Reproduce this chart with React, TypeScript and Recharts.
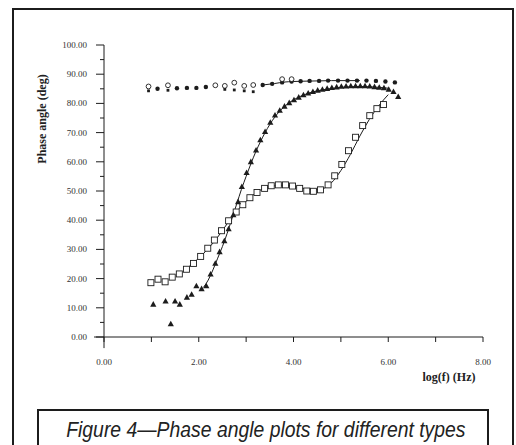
import { ComposedChart, Line, Scatter, XAxis, YAxis, ReferenceLine } from "recharts"

// log(f) positions and phase angles
const squareX = [0.99, 1.14, 1.29, 1.44, 1.59, 1.74, 1.89, 2.04, 2.19, 2.33, 2.48, 2.63, 2.79, 2.93, 3.08, 3.23, 3.39, 3.53, 3.68, 3.83, 3.98, 4.13, 4.28, 4.42, 4.57, 4.73, 4.87, 5.02, 5.16, 5.31, 5.46, 5.61, 5.76, 5.9]
const squareY = [18.6, 19.8, 18.9, 20.5, 21.6, 23.2, 25.2, 27.6, 30.4, 33.2, 36.4, 39.8, 42.8, 45.3, 47.7, 49.5, 50.9, 51.8, 52.1, 52.1, 51.7, 50.9, 50.0, 49.9, 50.4, 52.1, 55.2, 59.1, 63.8, 68.4, 72.4, 75.8, 78.2, 79.6]

const triX = [1.04, 1.3, 1.41, 1.5, 1.6, 1.75, 1.85, 1.95, 2.06, 2.16, 2.25, 2.35, 2.44, 2.54, 2.63, 2.73, 2.83, 2.91, 3.01, 3.1, 3.21, 3.3, 3.4, 3.51, 3.61, 3.71, 3.81, 3.91, 4.01, 4.11, 4.21, 4.31, 4.41, 4.51, 4.61, 4.71, 4.81, 4.91, 5.01, 5.11, 5.21, 5.31, 5.41, 5.51, 5.61, 5.71, 5.81, 5.91, 6.01, 6.11, 6.21]
const triY = [11.2, 12.3, 4.5, 12.3, 11.2, 13.6, 14.6, 17.5, 16.5, 17.5, 21.5, 25.2, 29.2, 32.9, 37.0, 41.8, 46.3, 51.5, 56.3, 60.0, 64.0, 67.5, 70.3, 73.5, 76.0, 77.6, 79.0, 80.2, 81.2, 82.1, 82.9, 83.5, 84.0, 84.5, 84.8, 85.1, 85.4, 85.6, 85.8, 85.9, 86.0, 86.0, 86.0, 86.0, 85.9, 85.7, 85.5, 85.3, 84.8, 84.0, 82.3]

const dotX = [1.13, 1.54, 1.75, 1.95, 2.15, 3.35, 3.55, 3.76, 3.96, 4.15, 4.34, 4.54, 4.73, 4.94, 5.14, 5.34, 5.54, 5.74, 5.94, 6.14]
const dotY = [85.0, 85.2, 85.3, 85.3, 85.6, 86.3, 86.7, 87.2, 87.5, 87.6, 87.7, 87.7, 87.8, 87.8, 87.8, 87.8, 87.8, 87.7, 87.5, 87.2]

const ringX = [0.94, 1.35, 2.35, 2.55, 2.75, 2.96, 3.15, 3.76, 3.96]
const ringY = [85.8, 86.2, 86.2, 86.0, 87.1, 86.0, 86.3, 88.3, 88.3]

const smallX = [0.94, 1.35, 2.55, 2.75, 2.96, 3.15]
const smallY = [84.3, 84.5, 84.8, 84.6, 84.3, 84.0]

// fitted curves
const topFitX = [3.35, 3.6, 3.8, 4.0, 4.2, 4.5, 4.8, 5.1, 5.4]
const topFitY = [86.3, 86.8, 87.3, 87.5, 87.6, 87.7, 87.8, 87.8, 87.8]

const triFitX = [2.1, 2.2, 2.3, 2.4, 2.5, 2.6, 2.7, 2.8, 2.9, 3.0, 3.1, 3.2, 3.3, 3.4, 3.5, 3.6, 3.8, 4.0, 4.2, 4.4, 4.6, 4.8, 5.0, 5.2, 5.4, 5.6, 5.8, 6.0]
const triFitY = [17.0, 19.5, 23, 27, 31, 35.5, 40.5, 45.5, 50.5, 55, 59.3, 63.3, 66.8, 70, 72.8, 75.2, 78.8, 81.2, 82.8, 83.9, 84.6, 85.1, 85.5, 85.7, 85.8, 85.7, 85.5, 85.2]

const sqFitX = [1.8, 2.0, 2.2, 2.4, 2.6, 2.8, 3.0, 3.2, 3.4, 3.6, 3.8, 4.0, 4.2, 4.4, 4.6, 4.8, 5.0, 5.2, 5.4, 5.6, 5.8, 6.0]
const sqFitY = [24.2, 27.0, 30.3, 34.2, 38.8, 43.0, 46.5, 49.3, 51.0, 51.8, 52.0, 51.6, 50.9, 50.4, 50.7, 52.8, 57.0, 62.5, 68.8, 74.5, 79.2, 83.0]

const xTicks = [0, 1, 2, 3, 4, 5, 6, 7, 8]
const yTicks = [0, 5, 10, 15, 20, 25, 30, 35, 40, 45, 50, 55, 60, 65, 70, 75, 80, 85, 90, 95, 100]

const pts = (xs: number[], ys: number[]) => xs.map((x, i) => ({ x, y: ys[i] }))

const ink = "#1c1c1c"
const serif = "'Liberation Serif', 'DejaVu Serif', serif"

const XTick = (p: any) => {
  const v = p.payload.value
  return (
    <g>
      <line x1={p.x} y1={p.y} x2={p.x} y2={p.y + 5} stroke={ink} />
      {v % 2 === 0 && (
        <text x={p.x} y={p.y + 28} textAnchor="middle" fontSize={9} fontFamily={serif} fill="#333">
          {v.toFixed(2)}
        </text>
      )}
    </g>
  )
}

const YTick = (p: any) => {
  const v = p.payload.value
  const major = v % 10 === 0
  return (
    <g>
      <line x1={p.x - (major ? 8 : 4)} y1={p.y} x2={p.x} y2={p.y} stroke={ink} />
      {major && (
        <text x={p.x - 17} y={p.y + 3} textAnchor="end" fontSize={9} fontFamily={serif} fill="#333">
          {v.toFixed(2)}
        </text>
      )}
    </g>
  )
}

const OpenSquare = (p: any) => (
  <rect x={p.cx - 3} y={p.cy - 3} width={6} height={6} fill="#fff" stroke={ink} strokeWidth={0.9} />
)
const Triangle = (p: any) => (
  <path d={`M${p.cx},${p.cy - 3.2}L${p.cx + 3.1},${p.cy + 2.4}L${p.cx - 3.1},${p.cy + 2.4}Z`} fill={ink} />
)
const Dot = (p: any) => <circle cx={p.cx} cy={p.cy} r={2.2} fill={ink} />
const Ring = (p: any) => <circle cx={p.cx} cy={p.cy} r={2.4} fill="#fff" stroke={ink} strokeWidth={0.9} />
const Small = (p: any) => <rect x={p.cx - 1.4} y={p.cy - 1.4} width={2.8} height={2.8} fill={ink} />

export default function App() {
  return (
    <div style={{ position: "absolute", left: 0, top: 0, width: 516, height: 445, overflow: "hidden", background: "#fff" }}>
      <div style={{ position: "absolute", left: 12, top: 8, width: 498, height: 437, borderTop: `2px solid ${ink}`, borderLeft: `2px solid ${ink}`, borderRight: `2px solid ${ink}` }} />
      <div
        style={{
          position: "absolute",
          left: 37,
          top: 409,
          width: 452,
          height: 36,
          boxSizing: "border-box",
          paddingTop: 6,
          borderTop: `2px solid ${ink}`,
          borderLeft: `2px solid ${ink}`,
          borderRight: `2px solid ${ink}`,
          textAlign: "center",
          whiteSpace: "nowrap",
        }}
      >
        <span
          style={{
            display: "inline-block",
            fontFamily: "'Liberation Sans', Arial, sans-serif",
            fontStyle: "italic",
            fontSize: 22,
            lineHeight: "26px",
            color: "#222",
            transform: "scaleX(0.88)",
            transformOrigin: "center",
          }}
        >
          Figure 4—Phase angle plots for different types
        </span>
      </div>
      <svg width={516} height={445} style={{ position: "absolute", left: 0, top: 0 }}>
        <text x={449} y={381} textAnchor="middle" fontSize={12} fontWeight="bold" fontFamily={serif} fill="#222">
          log(f) (Hz)
        </text>
        <text x={46} y={119} transform="rotate(-90 46 119)" textAnchor="middle" fontSize={12} fontWeight="bold" fontFamily={serif} fill="#222">
          Phase angle (deg)
        </text>
      </svg>
      <div style={{ position: "absolute", left: 0, top: 0 }}>
        <ComposedChart width={516} height={445} margin={{ top: 45, right: 33, left: 0, bottom: 0 }}>
          <XAxis
            type="number"
            dataKey="x"
            domain={[0, 8]}
            ticks={xTicks}
            height={108}
            stroke={ink}
            tickSize={0}
            tickMargin={0}
            tick={<XTick />}
            interval={0}
          />
          <YAxis
            type="number"
            dataKey="y"
            domain={[0, 100]}
            ticks={yTicks}
            width={104}
            stroke={ink}
            tickSize={0}
            tickMargin={0}
            tick={<YTick />}
            interval={0}
          />
          <ReferenceLine segment={[{ x: -0.21, y: 0 }, { x: 0, y: 0 }]} stroke={ink} ifOverflow="visible" />
          <ReferenceLine segment={[{ x: 0, y: 0 }, { x: 0, y: -3.8 }]} stroke={ink} ifOverflow="visible" />
          <Line data={pts(topFitX, topFitY)} dataKey="y" type="monotone" stroke={ink} strokeWidth={1} dot={false} isAnimationActive={false} />
          <Line data={pts(triFitX, triFitY)} dataKey="y" type="monotone" stroke={ink} strokeWidth={1} dot={false} isAnimationActive={false} />
          <Line data={pts(sqFitX, sqFitY)} dataKey="y" type="monotone" stroke={ink} strokeWidth={1} dot={false} isAnimationActive={false} />
          <Scatter data={pts(squareX, squareY)} shape={<OpenSquare />} isAnimationActive={false} />
          <Scatter data={pts(triX, triY)} shape={<Triangle />} isAnimationActive={false} />
          <Scatter data={pts(smallX, smallY)} shape={<Small />} isAnimationActive={false} />
          <Scatter data={pts(dotX, dotY)} shape={<Dot />} isAnimationActive={false} />
          <Scatter data={pts(ringX, ringY)} shape={<Ring />} isAnimationActive={false} />
        </ComposedChart>
      </div>
    </div>
  )
}
